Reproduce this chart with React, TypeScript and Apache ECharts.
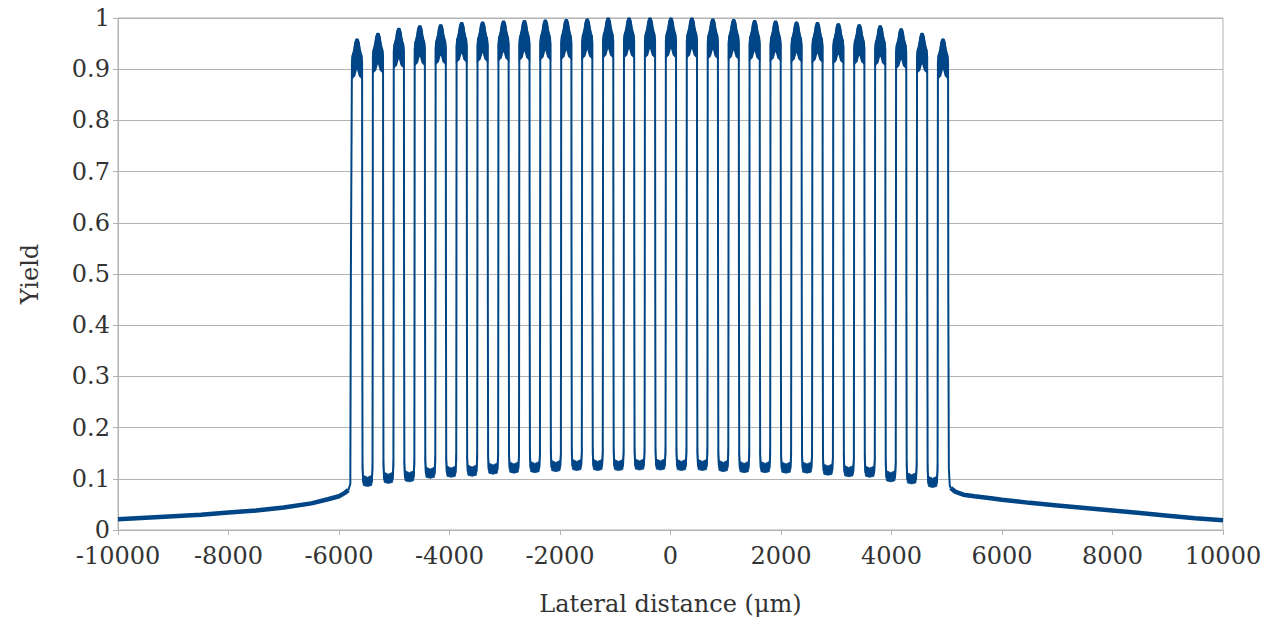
import React, { useEffect, useRef } from "react";
import * as echarts from "echarts";

const LINE_COLOR = "#004586";

// Peak centres (µm) and peak maxima
const peakCenters = [
  -5674, -5295, -4917, -4538, -4159, -3780, -3401, -3022, -2644, -2265,
  -1886, -1507, -1128, -750, -371, 8, 387, 766, 1144, 1523,
  1902, 2281, 2660, 3038, 3417, 3796, 4175, 4554, 4932,
];
const peakTops = [
  0.958, 0.969, 0.979, 0.984, 0.986, 0.99, 0.991, 0.993, 0.994, 0.995,
  0.996, 0.997, 0.999, 0.999, 0.999, 0.999, 0.999, 0.997, 0.996, 0.994,
  0.993, 0.991, 0.99, 0.988, 0.986, 0.984, 0.978, 0.969, 0.958,
];
// Valley minima between consecutive peaks
const valleyMins = [
  0.085, 0.091, 0.094, 0.101, 0.103, 0.105, 0.109, 0.111, 0.112, 0.114,
  0.116, 0.116, 0.116, 0.117, 0.117, 0.116, 0.116, 0.114, 0.112, 0.112,
  0.111, 0.111, 0.107, 0.104, 0.103, 0.094, 0.09, 0.083,
];

// Background tails outside the grating
const leftTailX = [-10000, -9500, -9000, -8500, -8000, -7500, -7000, -6500, -6200, -6000, -5900, -5830];
const leftTailY = [0.021, 0.024, 0.027, 0.03, 0.034, 0.038, 0.044, 0.052, 0.06, 0.066, 0.072, 0.078];
const rightTailX = [5070, 5150, 5300, 5500, 5800, 6000, 6500, 7000, 7500, 8000, 8500, 9000, 9500, 10000];
const rightTailY = [0.082, 0.075, 0.069, 0.066, 0.062, 0.059, 0.053, 0.048, 0.043, 0.038, 0.033, 0.028, 0.023, 0.019];

// Peak-top profile: offset from centre (µm) and drop below maximum
const halfWidth = 92;
const topOffsets = [-92, -82, -65, -48, -32, -14, 14, 32, 48, 65, 82, 92];
const topUpperDrop = [0.045, 0.032, 0.026, 0.018, 0.006, 0, 0, 0.006, 0.018, 0.026, 0.032, 0.045];
const lowOffsets = [-92, -45, -18, 0, 18, 45, 92];
const topLowerDrop = [0.076, 0.071, 0.06, 0.056, 0.06, 0.071, 0.076];

const xTicks = [-10000, -8000, -6000, -4000, -2000, 0, 2000, 4000, 6000, 8000, 10000];
const yTicks = [0, 0.1, 0.2, 0.3, 0.4, 0.5, 0.6, 0.7, 0.8, 0.9, 1];

function buildMainLine(): number[][] {
  const pts: number[][] = [];
  pts.push([leftTailX[leftTailX.length - 1], leftTailY[leftTailY.length - 1]]);
  pts.push([-5795, 0.09]);
  pts.push([-5785, 0.5]);
  for (let i = 0; i < peakCenters.length; i++) {
    const c = peakCenters[i];
    const h = peakTops[i];
    for (let k = 0; k < topOffsets.length; k++) {
      pts.push([c + topOffsets[k], h - topUpperDrop[k]]);
    }
    if (i < valleyMins.length) {
      const R = c + halfWidth;
      const L = peakCenters[i + 1] - halfWidth;
      const v = valleyMins[i];
      const mid = (R + L) / 2;
      pts.push([R + 3, 0.45]);
      pts.push([R + 8, v + 0.035]);
      pts.push([R + 20, v + 0.009]);
      pts.push([mid, v + 0.008]);
      pts.push([L - 20, v + 0.009]);
      pts.push([L - 6, v + 0.035]);
      pts.push([L - 3, 0.45]);
    }
  }
  const last = peakCenters[peakCenters.length - 1] + halfWidth;
  pts.push([last + 4, 0.45]);
  pts.push([last + 14, 0.12]);
  pts.push([last + 30, 0.088]);
  pts.push([rightTailX[0], rightTailY[0]]);
  return pts;
}

function zip(xs: number[], ys: number[]): number[][] {
  return xs.map((x, i) => [x, ys[i]]);
}

export default function App() {
  const ref = useRef<HTMLDivElement>(null);
  useEffect(() => {
    document.body.style.margin = "0";
    if (!ref.current) return;
    const chart = echarts.init(ref.current, undefined, { renderer: "svg" });

    const peakData = peakCenters.map((c, i) => [c, peakTops[i]]);
    const valleyData = valleyMins.map((v, i) => [
      peakCenters[i] + halfWidth,
      peakCenters[i + 1] - halfWidth,
      v,
    ]);

    const font = "DejaVu Serif";
    const gridColor = "#b3b3b3";

    chart.setOption({
      animation: false,
      textStyle: { fontFamily: font },
      grid: {
        left: 118,
        right: 55,
        top: 18,
        bottom: 92,
        show: true,
        borderColor: gridColor,
        borderWidth: 1,
        backgroundColor: "transparent",
      },
      xAxis: {
        type: "value",
        min: xTicks[0],
        max: xTicks[xTicks.length - 1],
        interval: 2000,
        name: "Lateral distance (μm)",
        nameLocation: "middle",
        nameGap: 62,
        nameTextStyle: { fontSize: 24, color: "#333333", fontFamily: font },
        axisLine: { show: true, onZero: false, lineStyle: { color: gridColor, width: 1 } },
        axisTick: { show: true, length: 5, lineStyle: { color: gridColor } },
        splitLine: { show: false },
        axisLabel: {
          fontSize: 24,
          lineHeight: 24,
          color: "#333333",
          margin: 14,
          fontFamily: font,
          formatter: (v: number) => String(v),
        },
      },
      yAxis: {
        type: "value",
        min: yTicks[0],
        max: yTicks[yTicks.length - 1],
        interval: 0.1,
        name: "Yield",
        nameLocation: "middle",
        nameGap: 76,
        nameRotate: 90,
        nameTextStyle: { fontSize: 24, color: "#333333", fontFamily: font },
        axisLine: { show: true, onZero: false, lineStyle: { color: gridColor, width: 1 } },
        axisTick: { show: true, length: 5, lineStyle: { color: gridColor } },
        splitLine: { show: true, lineStyle: { color: gridColor, width: 1 } },
        axisLabel: {
          fontSize: 24,
          lineHeight: 20,
          color: "#333333",
          margin: 8,
          fontFamily: font,
          formatter: (v: number) => String(Math.round(v * 10) / 10),
        },
      },
      series: [
        {
          type: "line",
          name: "left tail",
          data: zip(leftTailX, leftTailY),
          showSymbol: false,
          symbol: "none",
          lineStyle: { color: LINE_COLOR, width: 4.5 },
          z: 3,
        },
        {
          type: "line",
          name: "right tail",
          data: zip(rightTailX, rightTailY),
          showSymbol: false,
          symbol: "none",
          lineStyle: { color: LINE_COLOR, width: 4.5 },
          z: 3,
        },
        {
          type: "line",
          name: "yield",
          data: buildMainLine(),
          showSymbol: false,
          symbol: "none",
          lineStyle: { color: LINE_COLOR, width: 2 },
          z: 4,
        },
        {
          type: "custom",
          name: "peak tops",
          data: peakData,
          encode: { x: 0, y: 1 },
          z: 4,
          renderItem: (params: any, api: any) => {
            const c = api.value(0);
            const h = api.value(1);
            const pts: number[][] = [];
            for (let k = 0; k < topOffsets.length; k++) {
              pts.push(api.coord([c + topOffsets[k], h - topUpperDrop[k]]));
            }
            for (let k = lowOffsets.length - 1; k >= 0; k--) {
              pts.push(api.coord([c + lowOffsets[k], h - topLowerDrop[k]]));
            }
            return {
              type: "polygon",
              shape: { points: pts },
              style: { fill: LINE_COLOR, stroke: LINE_COLOR, lineWidth: 1.5 },
            };
          },
        },
        {
          type: "custom",
          name: "valley bottoms",
          data: valleyData,
          encode: { x: 0, y: 2 },
          z: 4,
          renderItem: (params: any, api: any) => {
            const R = api.value(0);
            const L = api.value(1);
            const v = api.value(2);
            const mid = (R + L) / 2;
            const raw = [
              [R + 5, v + 0.045],
              [R + 9, v + 0.012],
              [R + 22, v + 0.002],
              [mid, v],
              [L - 22, v + 0.002],
              [L - 8, v + 0.012],
              [L - 4, v + 0.045],
              [L - 10, v + 0.045],
              [L - 16, v + 0.022],
              [mid, v + 0.018],
              [R + 18, v + 0.022],
              [R + 11, v + 0.045],
            ];
            return {
              type: "polygon",
              shape: { points: raw.map((p) => api.coord(p)) },
              style: { fill: LINE_COLOR, stroke: LINE_COLOR, lineWidth: 0.8 },
            };
          },
        },
      ],
    });
    return () => chart.dispose();
  }, []);

  return (
    <div
      ref={ref}
      style={{ position: "fixed", left: 0, top: 0, width: 1278, height: 622, background: "#ffffff" }}
    />
  );
}
